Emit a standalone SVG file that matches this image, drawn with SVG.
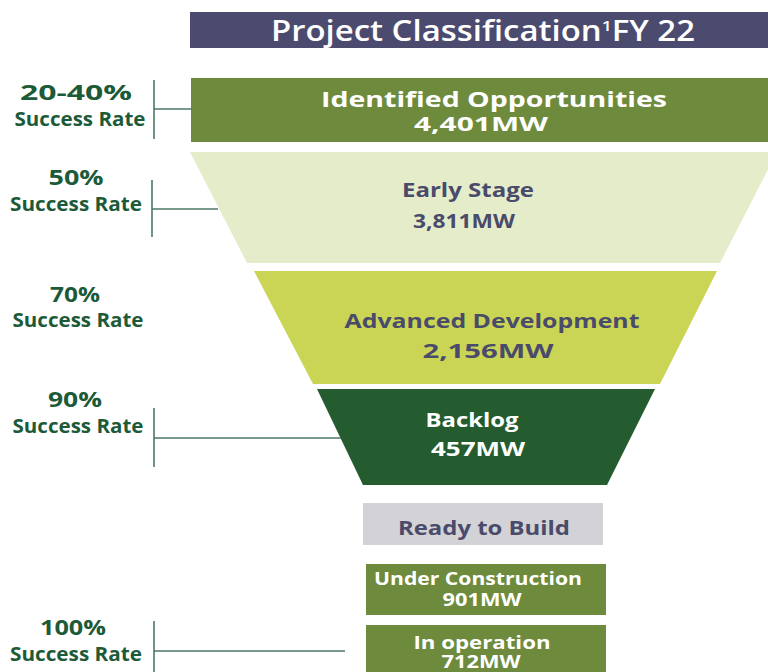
<svg xmlns="http://www.w3.org/2000/svg" width="768" height="672" viewBox="0 0 768 672">
  <style>
    .stage { font-family: "Open Sans", "Liberation Sans", sans-serif; font-weight: 700; text-anchor: middle; }
    .light { fill: #ffffff; }
    .dark { fill: #4a4a6a; }
    .rate { font-family: "Open Sans", "Liberation Sans", sans-serif; font-weight: 700; text-anchor: middle; fill: #1d5a38; }
    .bracket { stroke: #4e7865; stroke-width: 1.6; fill: none; }
  </style>

  <rect width="768" height="672" fill="#ffffff"/>

  <!-- heading bar -->
  <g id="title">
    <rect x="190" y="12" width="578" height="36" fill="#4b4b6f"/>
    <text x="483" y="41" font-family="Open Sans, Liberation Sans, sans-serif" font-weight="600" font-size="28" fill="#ffffff" text-anchor="middle" textLength="424" lengthAdjust="spacingAndGlyphs">Project Classification<tspan font-size="15" dy="-10">1</tspan><tspan dy="10">FY 22</tspan></text>
  </g>

  <!-- funnel stages -->
  <g id="identified-opportunities">
    <rect x="191" y="78" width="577" height="64" fill="#6e8b3d"/>
    <text class="stage light" x="494" y="107" font-size="22" textLength="346" lengthAdjust="spacingAndGlyphs">Identified Opportunities</text>
    <text class="stage light" x="481" y="131" font-size="20" textLength="134" lengthAdjust="spacingAndGlyphs">4,401MW</text>
  </g>

  <g id="early-stage">
    <polygon points="190,152 777,152 720,263 247,263" fill="#e5ecca"/>
    <text class="stage dark" x="468" y="197" font-size="19" textLength="132" lengthAdjust="spacingAndGlyphs">Early Stage</text>
    <text class="stage dark" x="464" y="228" font-size="19" textLength="102" lengthAdjust="spacingAndGlyphs">3,811MW</text>
  </g>

  <g id="advanced-development">
    <polygon points="254,271 717,271 660,384 313,384" fill="#cad556"/>
    <text class="stage dark" x="492" y="328" font-size="20" textLength="295" lengthAdjust="spacingAndGlyphs">Advanced Development</text>
    <text class="stage dark" x="488" y="358" font-size="19" textLength="131" lengthAdjust="spacingAndGlyphs">2,156MW</text>
  </g>

  <g id="backlog">
    <polygon points="317,389 655,389 607,485 363,485" fill="#245c2f"/>
    <text class="stage light" x="472" y="427" font-size="19" textLength="93" lengthAdjust="spacingAndGlyphs">Backlog</text>
    <text class="stage light" x="478" y="456" font-size="19" textLength="94" lengthAdjust="spacingAndGlyphs">457MW</text>
  </g>

  <g id="ready-to-build">
    <rect x="363" y="503" width="240" height="42" fill="#d3d3d7"/>
    <text class="stage dark" x="484" y="535" font-size="20" textLength="172" lengthAdjust="spacingAndGlyphs">Ready to Build</text>
  </g>

  <g id="under-construction">
    <rect x="366" y="564" width="240" height="51" fill="#6e8b3d"/>
    <text class="stage light" x="478" y="585" font-size="17" textLength="208" lengthAdjust="spacingAndGlyphs">Under Construction</text>
    <text class="stage light" x="482" y="606" font-size="17" textLength="79" lengthAdjust="spacingAndGlyphs">901MW</text>
  </g>

  <g id="in-operation">
    <rect x="366" y="625" width="240" height="47" fill="#6e8b3d"/>
    <text class="stage light" x="482" y="649" font-size="18" textLength="137" lengthAdjust="spacingAndGlyphs">In operation</text>
    <text class="stage light" x="481" y="668" font-size="17" textLength="79" lengthAdjust="spacingAndGlyphs">712MW</text>
  </g>

  <!-- success-rate labels -->
  <g id="rate-20-40">
    <text class="rate" x="76" y="100" font-size="22" textLength="112" lengthAdjust="spacingAndGlyphs">20-40%</text>
    <text class="rate" x="80" y="126" font-size="19" textLength="131" lengthAdjust="spacingAndGlyphs">Success Rate</text>
  </g>
  <g id="rate-50">
    <text class="rate" x="76" y="185" font-size="22" textLength="55" lengthAdjust="spacingAndGlyphs">50%</text>
    <text class="rate" x="76" y="211" font-size="19" textLength="132" lengthAdjust="spacingAndGlyphs">Success Rate</text>
  </g>
  <g id="rate-70">
    <text class="rate" x="75" y="302" font-size="22" textLength="50" lengthAdjust="spacingAndGlyphs">70%</text>
    <text class="rate" x="78" y="327" font-size="19" textLength="131" lengthAdjust="spacingAndGlyphs">Success Rate</text>
  </g>
  <g id="rate-90">
    <text class="rate" x="75" y="407" font-size="22" textLength="54" lengthAdjust="spacingAndGlyphs">90%</text>
    <text class="rate" x="78" y="433" font-size="19" textLength="131" lengthAdjust="spacingAndGlyphs">Success Rate</text>
  </g>
  <g id="rate-100">
    <text class="rate" x="73" y="635" font-size="22" textLength="66" lengthAdjust="spacingAndGlyphs">100%</text>
    <text class="rate" x="76" y="661" font-size="19" textLength="132" lengthAdjust="spacingAndGlyphs">Success Rate</text>
  </g>

  <!-- brackets tying each rate to its stage -->
  <g id="connectors" class="bracket">
    <path d="M154,80 V139 M154,109 H192"/>
    <path d="M152,180 V237 M152,209 H218"/>
    <path d="M154,408 V467 M154,438 H341"/>
    <path d="M154,621 V672 M154,651 H345"/>
  </g>
</svg>
